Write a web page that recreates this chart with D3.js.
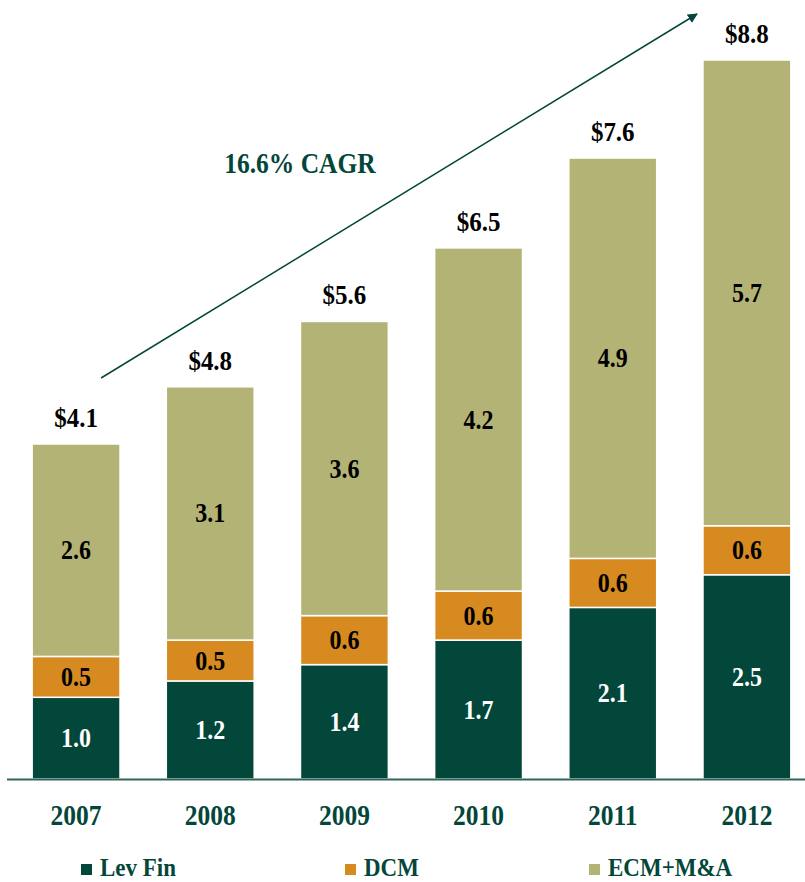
<!DOCTYPE html>
<html lang="en">
<head>
<meta charset="UTF-8">
<title>Revenue by product</title>
<style>
    body { margin: 0; background: #fff; }
    text { font-family: "Liberation Serif", "Times New Roman", serif; font-weight: bold; }
</style>
</head>
<body>
<svg width="805" height="882"></svg>
<script src="https://d3js.org/d3.v7.min.js"></script>
<script>
    const years = ["2007", "2008", "2009", "2010", "2011", "2012"];
    const levFin = [1.0, 1.2, 1.4, 1.7, 2.1, 2.5];
    const dcm = [0.5, 0.5, 0.6, 0.6, 0.6, 0.6];
    const ecmMA = [2.6, 3.1, 3.6, 4.2, 4.9, 5.7];
    const totals = ["$4.1", "$4.8", "$5.6", "$6.5", "$7.6", "$8.8"];
    const seriesNames = ["Lev Fin", "DCM", "ECM+M&A"];
    const seriesColors = ["#03463a", "#d68a1f", "#b4b376"];
    const cagrLabel = "16.6% CAGR";

    const svg = d3.select("svg");
    const green = "#03463a";
    const stretch = 1.12; // text in the original looks a bit taller than the font

    // text placed at (x, baseline y), stretched vertically
    function label(parent, x, y, size) {
        return parent.append("text")
            .attr("transform", `translate(${x},${y}) scale(1,${stretch})`)
            .attr("text-anchor", "middle")
            .attr("font-size", size);
    }

    const rows = years.map((y, i) => ({ year: y, "Lev Fin": levFin[i], "DCM": dcm[i], "ECM+M&A": ecmMA[i] }));
    const stacked = d3.stack().keys(seriesNames)(rows);

    const x = d3.scaleBand().domain(years).range([9, 814]).paddingInner(0.345).paddingOuter(0.1725);
    const y = d3.scaleLinear().domain([0, 8.8]).range([779, 60]);
    const cx = d => x(d) + x.bandwidth() / 2;

    // bars
    const layer = svg.selectAll(".layer")
        .data(stacked)
        .enter().append("g")
        .attr("fill", (d, i) => seriesColors[i]);

    layer.selectAll("rect")
        .data(d => d)
        .enter().append("rect")
        .attr("x", d => x(d.data.year))
        .attr("width", x.bandwidth())
        .attr("y", d => y(d[1]))
        .attr("height", d => y(d[0]) - y(d[1]))
        .attr("stroke", "#fff")
        .attr("stroke-width", 1.5);

    // segment labels
    stacked.forEach((s, i) => {
        s.forEach(p => {
            label(svg, cx(p.data.year), (y(p[0]) + y(p[1])) / 2 + 9, 24)
                .attr("fill", i === 0 ? "#fff" : "#000")
                .text((p[1] - p[0]).toFixed(1));
        });
    });

    // totals
    years.forEach((yr, i) => {
        label(svg, cx(yr), y(levFin[i] + dcm[i] + ecmMA[i]) - 17, 25)
            .attr("fill", "#000")
            .text(totals[i]);
    });

    // baseline
    svg.append("line")
        .attr("x1", 7).attr("x2", 805)
        .attr("y1", y(0) + 0.5).attr("y2", y(0) + 0.5)
        .attr("stroke", "#2f6658").attr("stroke-width", 2);

    // year labels
    const xAxis = svg.append("g")
        .attr("transform", `translate(0,${y(0)})`)
        .call(d3.axisBottom(x).tickSize(0).tickPadding(23));
    xAxis.select(".domain").remove();
    xAxis.selectAll("text")
        .attr("font-size", 25.5)
        .attr("font-family", "Liberation Serif, serif")
        .attr("transform", `scale(1,${stretch})`)
        .attr("fill", green);

    // CAGR arrow
    const defs = svg.append("defs");
    defs.append("marker")
        .attr("id", "arrow")
        .attr("viewBox", "0 0 10 10")
        .attr("refX", 9).attr("refY", 5)
        .attr("markerWidth", 10).attr("markerHeight", 10)
        .attr("markerUnits", "userSpaceOnUse")
        .attr("orient", "auto")
        .append("path")
        .attr("d", "M0,0 L10,5 L0,10 Z")
        .attr("fill", green);

    svg.append("line")
        .attr("x1", cx("2007") + 25)
        .attr("y1", 378)
        .attr("x2", x("2012") - 6)
        .attr("y2", 14)
        .attr("stroke", green)
        .attr("stroke-width", 1.5)
        .attr("marker-end", "url(#arrow)");

    label(svg, 300, 173, 25.5)
        .attr("fill", green)
        .text(cagrLabel);

    // legend
    const legendX = [81, 345, 589];
    const legend = svg.selectAll(".legend")
        .data(seriesNames)
        .enter().append("g")
        .attr("transform", (d, i) => `translate(${legendX[i]},864)`);
    legend.append("rect")
        .attr("width", 11).attr("height", 11)
        .attr("fill", (d, i) => seriesColors[i]);
    legend.append("text")
        .attr("transform", `translate(19,12) scale(1,${stretch})`)
        .attr("font-size", 23)
        .attr("fill", green)
        .text(d => d);
</script>
</body>
</html>
